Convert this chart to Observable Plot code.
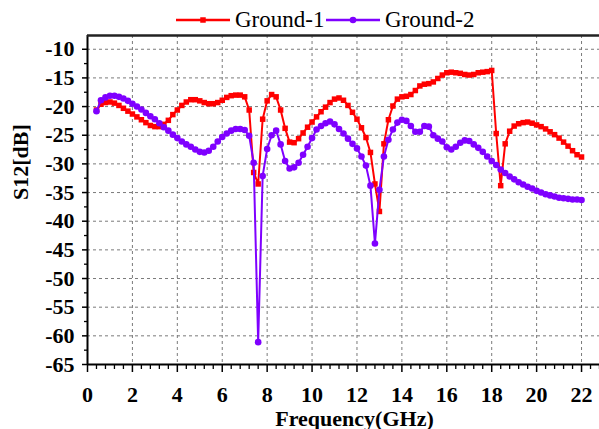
<!DOCTYPE html>
<html>
<head>
<meta charset="utf-8">
<script src="https://cdn.jsdelivr.net/npm/d3@7"></script>
<script src="https://cdn.jsdelivr.net/npm/@observablehq/plot@0.6"></script>
<style>
  body { margin: 0; background: #fff; }
  #legend { width: 599px; height: 33px; }
  #chart svg { display: block; }
</style>
</head>
<body>
<div id="legend"></div>
<div id="chart"></div>
<script>
// Frequency sweep (GHz)
const freq = [
  0.4, 0.6, 0.8, 1.0, 1.2, 1.4, 1.6, 1.8, 2.0, 2.2, 2.4, 2.6, 2.8, 3.0, 3.2, 3.4, 3.6, 3.8,
  4.0, 4.2, 4.4, 4.6, 4.8, 5.0, 5.2, 5.4, 5.6, 5.8, 6.0, 6.2, 6.4, 6.6, 6.8, 7.0, 7.2, 7.4,
  7.6, 7.8, 8.0, 8.2, 8.4, 8.6, 8.8, 9.0, 9.2, 9.4, 9.6, 9.8, 10.0, 10.2, 10.4, 10.6, 10.8, 11.0,
  11.2, 11.4, 11.6, 11.8, 12.0, 12.2, 12.4, 12.6, 12.8, 13.0, 13.2, 13.4, 13.6, 13.8, 14.0, 14.2,
  14.4, 14.6, 14.8, 15.0, 15.2, 15.4, 15.6, 15.8, 16.0, 16.2, 16.4, 16.6, 16.8, 17.0, 17.2, 17.4,
  17.6, 17.8, 18.0, 18.2, 18.4, 18.6, 18.8, 19.0, 19.2, 19.4, 19.6, 19.8, 20.0, 20.2, 20.4, 20.6,
  20.8, 21.0, 21.2, 21.4, 21.6, 21.8, 22.0
];

// S12 (dB), Ground-1
const ground1 = [
  -20.6, -19.6, -19.3, -19.2, -19.4, -19.8, -20.3, -20.8, -21.3, -21.8, -22.3, -22.8, -23.3, -23.5, -23.5, -23.1, -22.4, -21.4,
  -20.6, -19.8, -19.2, -18.8, -18.8, -19.0, -19.3, -19.5, -19.5, -19.3, -18.9, -18.4, -18.1, -18.0, -18.0, -18.3, -20.6, -31.5,
  -33.5, -22.2, -19.0, -17.9, -18.3, -20.6, -23.8, -26.2, -26.3, -25.6, -24.6, -23.6, -22.7, -21.8, -20.9, -20.1, -19.3, -18.7,
  -18.5, -18.9, -19.8, -21.0, -22.2, -23.7, -25.4, -28.0, -33.5, -38.3, -26.5, -22.3, -19.9, -18.7, -18.3, -18.2,
  -17.9, -17.2, -16.4, -16.1, -16.0, -15.7, -15.1, -14.5, -14.1, -14.0, -14.1, -14.2, -14.4, -14.5, -14.4, -14.1,
  -14.0, -13.9, -13.7, -24.7, -33.8, -26.5, -24.3, -23.4, -23.0, -22.8, -22.7, -22.9, -23.2, -23.5, -23.9, -24.4,
  -24.9, -25.5, -26.2, -26.9, -27.7, -28.4, -28.8
];

// S12 (dB), Ground-2
const ground2 = [
  -20.8, -18.9, -18.4, -18.1, -18.1, -18.3, -18.6, -19.0, -19.5, -20.0, -20.5, -21.1, -21.7, -22.2, -22.9, -23.6, -24.2, -24.9,
  -25.5, -26.1, -26.6, -27.0, -27.5, -27.9, -28.0, -27.7, -27.0, -26.1, -25.3, -24.7, -24.2, -23.9, -23.9, -24.1, -25.1, -29.8,
  -61.1, -32.1, -27.4, -25.0, -24.2, -26.6, -29.5, -30.8, -30.6, -29.8, -28.4, -27.0, -25.5, -24.0, -23.4, -22.9, -22.6, -23.1,
  -23.9, -24.7, -25.6, -26.5, -27.3, -28.7, -30.3, -33.8, -43.9, -34.5, -28.7, -25.8, -24.0, -22.8, -22.3, -22.5,
  -23.4, -24.4, -24.4, -23.4, -23.5, -25.0, -25.6, -26.1, -27.1, -27.5, -27.0, -26.3, -25.9, -26.0, -26.6, -27.2,
  -27.9, -28.7, -29.5, -30.2, -31.0, -31.6, -32.2, -32.7, -33.2, -33.6, -34.0, -34.3, -34.7, -35.0, -35.3, -35.5,
  -35.7, -35.9, -36.0, -36.1, -36.2, -36.2, -36.3
];

const seriesNames = ["Ground-1", "Ground-2"];
const seriesColors = ["#ff0000", "#7f00ff"];
const seriesSymbols = ["square", "circle"];

const xTicks = [0, 2, 4, 6, 8, 10, 12, 14, 16, 18, 20, 22];
const xMinorTicks = [0.4, 0.8, 1.2, 1.6, 2.4, 2.8, 3.2, 3.6, 4.4, 4.8, 5.2, 5.6, 6.4, 6.8, 7.2, 7.6,
  8.4, 8.8, 9.2, 9.6, 10.4, 10.8, 11.2, 11.6, 12.4, 12.8, 13.2, 13.6, 14.4, 14.8, 15.2, 15.6,
  16.4, 16.8, 17.2, 17.6, 18.4, 18.8, 19.2, 19.6, 20.4, 20.8, 21.2, 21.6, 22.4, 22.8];
const yTicks = [-10, -15, -20, -25, -30, -35, -40, -45, -50, -55, -60, -65];
const yMinorTicks = [-12.5, -17.5, -22.5, -27.5, -32.5, -37.5, -42.5, -47.5, -52.5, -57.5, -62.5];
const xDomain = [0, 22.8];
const yDomain = [-65, -7.6];

const font = "'Liberation Serif', 'Times New Roman', serif";

// Long-format table for the marks
const rows = [];
freq.forEach((f, i) => {
  rows.push({f, v: ground1[i], s: seriesNames[0]});
  rows.push({f, v: ground2[i], s: seriesNames[1]});
});

const seriesMarks = seriesNames.flatMap((name, k) => {
  const data = rows.filter(d => d.s === name);
  return [
    Plot.line(data, {x: "f", y: "v", stroke: "s", strokeWidth: 2}),
    Plot.dot(data, {x: "f", y: "v", fill: "s", symbol: seriesSymbols[k], r: k === 0 ? 3.1 : 3.3, stroke: "none"})
  ];
});

const chart = Plot.plot({
  width: 599,
  height: 396,
  marginLeft: 87,
  marginRight: 0,
  marginTop: 2,
  marginBottom: 65,
  style: {fontFamily: font, fontSize: "22px", fontWeight: "bold", color: "#000", background: "#fff"},
  x: {domain: xDomain},
  y: {domain: yDomain},
  color: {domain: seriesNames, range: seriesColors},
  marks: [
    Plot.gridX(xTicks.filter(t => t > 0), {stroke: "#7a7a7a", strokeOpacity: 1, strokeDasharray: "3,3", strokeWidth: 1}),
    Plot.gridY(yTicks.filter(t => t > -65), {stroke: "#7a7a7a", strokeOpacity: 1, strokeDasharray: "3,3", strokeWidth: 1}),
    Plot.axisX({ticks: xMinorTicks, tickSize: 5, tickFormat: () => "", label: null, strokeWidth: 1.3}),
    Plot.axisX({ticks: xTicks, tickSize: 8, tickPadding: 14, tickFormat: d => String(d), label: null, strokeWidth: 1.5, fontSize: 22, fontWeight: "bold"}),
    Plot.axisY({ticks: yMinorTicks, tickSize: 3, tickFormat: () => "", label: null, strokeWidth: 1.3}),
    Plot.axisY({ticks: yTicks, tickSize: 5, tickPadding: 8, tickFormat: d => String(d), label: null, strokeWidth: 1.5, fontSize: 22, fontWeight: "bold"}),
    Plot.ruleX([xDomain[0]], {stroke: "#000", strokeWidth: 2}),
    Plot.ruleY([yDomain[0]], {stroke: "#000", strokeWidth: 2}),
    Plot.ruleY([yDomain[1]], {stroke: "#222", strokeWidth: 2.5}),
    ...seriesMarks,
    Plot.text(["S12[dB]"], {frameAnchor: "left", dx: -67, rotate: -90, fontSize: 22, fontWeight: "bold", fill: "#000"}),
    Plot.text(["Frequency(GHz)"], {frameAnchor: "bottom", lineAnchor: "bottom", dx: 11, dy: 61, fontSize: 22, fontWeight: "bold", fill: "#000"})
  ]
});
document.getElementById("chart").appendChild(chart);

// Legend row above the plot
const legend = d3.select("#legend").append("svg")
  .attr("width", 599).attr("height", 33)
  .style("display", "block");
const legendX = [176, 326];
seriesNames.forEach((name, k) => {
  const g = legend.append("g").attr("transform", `translate(${legendX[k]},20)`);
  g.append("line").attr("x1", 0).attr("x2", 54).attr("y1", 0).attr("y2", 0)
    .attr("stroke", seriesColors[k]).attr("stroke-width", 2.5);
  g.append("path")
    .attr("transform", "translate(27,0)")
    .attr("d", d3.symbol(k === 0 ? d3.symbolSquare : d3.symbolCircle, k === 0 ? 30 : 34)())
    .attr("fill", seriesColors[k]);
  g.append("text").attr("x", 59).attr("y", 7)
    .attr("font-family", font).attr("font-size", 23)
    .attr("fill", "#000")
    .text(name);
});
</script>
</body>
</html>
